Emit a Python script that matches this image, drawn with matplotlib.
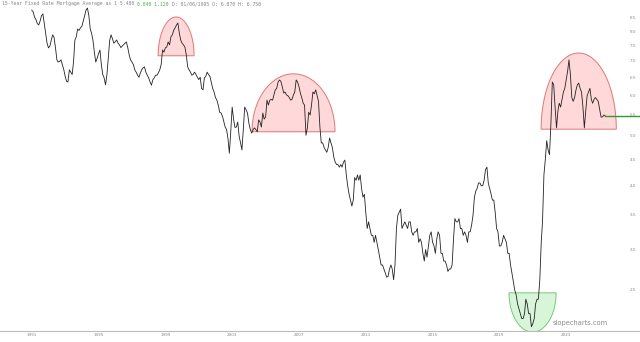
import matplotlib
matplotlib.use("Agg")
import matplotlib.pyplot as plt
import matplotlib.dates as mdates
from matplotlib.transforms import blended_transform_factory
from matplotlib.patches import Polygon
import numpy as np
import pandas as pd

# 15-year fixed rate mortgage average, monthly (%)
first_month = "1991-08-01"
rates_1990s = [
    8.82, 8.75, 8.55, 8.45, 8.30,
    8.25, 8.40, 8.60, 8.67, 8.30, 7.95, 7.60, 7.44, 7.50, 7.70, 7.89, 7.80,
    7.45, 7.05, 6.98, 7.00, 7.05, 6.90, 6.75, 6.55, 6.40, 6.38, 6.74, 6.67,
    6.60, 7.00, 7.70, 7.82, 8.10, 8.05, 8.14, 8.20, 8.40, 8.60, 8.83, 8.90,
    8.60, 8.10, 7.95, 7.70, 7.30, 6.98, 7.10, 7.25, 7.37, 6.90, 6.60, 6.50,
    6.30, 6.60, 7.10, 7.70, 7.89, 7.75, 7.60, 7.65, 7.71, 7.60, 7.54, 7.45,
    7.50, 7.55, 7.60, 7.64, 7.45, 7.21, 7.05, 6.98, 6.90, 6.74, 6.67, 6.58,
    6.52, 6.65, 6.74, 6.80, 6.83, 6.67, 6.58, 6.50, 6.38, 6.29, 6.45, 6.50,
    6.58, 6.58, 6.65, 6.74, 6.90, 7.37, 7.30, 7.44, 7.47, 7.64, 7.54, 7.82,
]
rates_2000s = [
    7.89, 8.06, 8.14, 8.25, 8.32, 7.96, 7.71, 7.60, 7.54, 7.47, 7.21, 6.83,
    6.74, 6.67, 6.58, 6.60, 6.67, 6.60, 6.52, 6.45, 6.52, 6.20, 6.16, 6.50,
    6.55, 6.67, 6.60, 6.55, 6.38, 6.20, 6.10, 5.95, 5.88, 5.75, 5.57, 5.55,
    5.47, 5.33, 5.21, 5.15, 4.95, 4.63, 5.10, 5.70, 5.40, 5.20, 5.21, 5.33,
    5.00, 4.85, 4.70, 5.15, 5.70, 5.63, 5.55, 5.30, 5.15, 5.07, 5.15, 5.19,
    5.15, 5.10, 5.38, 5.33, 5.21, 5.55, 5.40, 5.45, 5.88, 5.75, 5.88, 5.90,
    5.88, 6.02, 6.16, 6.20, 6.38, 6.44, 6.40, 6.25, 6.07, 6.10, 6.02, 6.00,
    5.95, 5.88, 5.90, 6.02, 6.10, 6.44, 6.38, 6.25, 6.07, 5.95, 5.80, 5.75,
    5.02, 5.19, 5.57, 5.50, 5.75, 6.10, 6.05, 6.16, 6.00, 5.85, 5.21, 4.85,
    4.85, 4.75, 4.70, 4.65, 4.75, 4.96, 4.85, 4.75, 4.55, 4.45, 4.40, 4.40,
]
rates_2010s = [
    4.35, 4.40, 4.35, 4.45, 4.49, 4.20, 4.00, 3.85, 3.75, 3.65, 3.75, 4.15,
    4.10, 4.20, 4.10, 4.20, 3.95, 3.80, 3.85, 3.55, 3.30, 3.40, 3.30, 3.20,
    3.20, 3.10, 3.20, 3.10, 3.00, 2.90, 2.80, 2.80, 2.75, 2.70, 2.65, 2.66,
    2.75, 2.80, 2.75, 2.62, 2.80, 3.30, 3.50, 3.55, 3.60, 3.30, 3.35, 3.40,
    3.35, 3.30, 3.40, 3.40, 3.25, 3.20, 3.25, 3.25, 3.30, 3.10, 3.15, 3.10,
    2.95, 2.85, 3.00, 2.90, 3.05, 3.20, 3.25, 3.10, 3.05, 2.95, 3.15, 3.25,
    3.20, 2.95, 2.95, 2.85, 2.85, 2.80, 2.72, 2.75, 2.75, 2.80, 3.15, 3.45,
    3.40, 3.40, 3.45, 3.30, 3.30, 3.20, 3.25, 3.20, 3.10, 3.25, 3.25, 3.35,
    3.50, 3.80, 3.90, 3.95, 4.05, 4.05, 4.00, 4.00, 4.10, 4.30, 4.35, 4.05,
    3.95, 3.85, 3.75, 3.75, 3.55, 3.30, 3.25, 3.05, 3.05, 3.10, 3.20, 3.15,
]
rates_2020s = [
    3.10, 2.95, 2.95, 2.80, 2.70, 2.60, 2.50, 2.45, 2.35, 2.30, 2.25, 2.20,
    2.20, 2.25, 2.40, 2.35, 2.25, 2.25, 2.12, 2.15, 2.20, 2.35, 2.40, 2.40,
    2.62, 3.10, 3.40, 4.20, 4.50, 4.90, 4.70, 4.60, 5.30, 6.38, 6.30, 5.70,
    5.19, 5.60, 5.80, 5.70, 5.90, 6.10, 6.20, 6.45, 6.70, 7.05, 6.60, 5.95,
    5.85, 5.95, 6.15, 6.30, 6.35, 6.20, 6.10, 5.70, 5.19, 5.60, 6.00, 6.10,
    6.20, 5.90, 5.80, 5.90, 5.95, 5.90, 5.85, 5.65, 5.45, 5.45, 5.50, 5.48,
]

x_tick_dates = ["1991-08-01", "1995-08-01", "1999-08-01", "2003-08-01", "2007-08-01",
                "2011-08-01", "2015-08-01", "2019-08-01", "2023-08-01"]
x_tick_labels = ["1991", "1995", "1999", "2003", "2007", "2011", "2015", "2019", "2023"]
y_ticks = [2.5, 3.0, 3.5, 4.0, 4.5, 5.0, 5.5, 6.0, 6.5, 7.0, 7.5, 8.0, 8.5]

# highlighted tops (red) and bottom (green): start, end, base level, apex level
top_starts = ["1999-02-24", "2004-10-08", "2022-01-30"]
top_ends = ["2001-04-20", "2009-09-27", "2026-08-01"]
top_bases = [7.18, 5.10, 5.16]
top_apexes = [8.55, 6.62, 7.27]
bottom_start, bottom_end = "2020-02-28", "2022-12-24"
bottom_base, bottom_apex = 2.47, 2.07

title_head = "15-Year Fixed Rate Mortgage Average as 1 5.480"
title_green = " 0.040 1.120"
title_tail = " D: 01/06/1995 O: 6.870 H: 6.750"

rates = rates_1990s + rates_2000s + rates_2010s + rates_2020s
dates = pd.date_range(first_month, periods=len(rates), freq="MS")

fig = plt.figure(figsize=(6.4, 3.42), dpi=100)
ax = fig.add_axes([0, 11 / 342, 1, 331 / 342])
ax.set_yscale("log")
ax.set_xlim(pd.Timestamp("1989-09-06"), pd.Timestamp("2028-01-01"))
ax.set_ylim(2.08, 9.23)

ax.plot(dates, rates, color="#222222", lw=0.6, zorder=3)
ax.plot([dates[-1], pd.Timestamp("2028-01-01")], [rates[-1], rates[-1]],
        color="#2e9b2e", lw=1.0, zorder=3, clip_on=False)


def arch(start, end, base, apex, face, edge):
    x0 = mdates.date2num(pd.Timestamp(start))
    x1 = mdates.date2num(pd.Timestamp(end))
    p0, p1, pa = ax.transData.transform([(x0, base), (x1, base), (x0, apex)])
    cx, rx, ry = (p0[0] + p1[0]) / 2, (p1[0] - p0[0]) / 2, pa[1] - p0[1]
    t = np.linspace(0, np.pi, 150)
    pts = np.column_stack([cx - rx * np.cos(t), p0[1] + ry * np.sin(t)])
    poly = Polygon(ax.transData.inverted().transform(pts), closed=True,
                   facecolor=face, edgecolor=edge, lw=0.7, zorder=2)
    ax.add_patch(poly)


for s, e, b, a in zip(top_starts, top_ends, top_bases, top_apexes):
    arch(s, e, b, a, (1.0, 0.0, 0.0, 0.15), (0.85, 0.35, 0.35, 0.8))
arch(bottom_start, bottom_end, bottom_base, bottom_apex,
     (0.0, 0.75, 0.0, 0.15), (0.35, 0.75, 0.35, 0.8))

for side in ["top", "left", "right"]:
    ax.spines[side].set_visible(False)
ax.spines["bottom"].set_color("#bbbbbb")
ax.spines["bottom"].set_linewidth(0.8)

ax.set_xticks([pd.Timestamp(d) for d in x_tick_dates])
ax.set_xticklabels(x_tick_labels)
ax.tick_params(axis="x", length=0, pad=1.5, labelsize=3, labelcolor="#888888")

# price scale labels sit inside the right edge
ax.set_yticks([])
ax.minorticks_off()
ytrans = blended_transform_factory(ax.transAxes, ax.transData)
for v in y_ticks:
    ax.text(633 / 640, v, f"{v:.1f}", transform=ytrans, ha="center", va="center",
            fontsize=3, color="#888888")

ax.text(608 / 640, 0.015, "slopecharts.com", transform=ax.transAxes, ha="right",
        va="bottom", fontsize=4.8, color="#8a8a8a", zorder=4)

# header line, with the change values in green
renderer = fig.canvas.get_renderer()
x = 2 / 640
for part, col in [(title_head, "#888888"), (title_green, "#4caf50"), (title_tail, "#888888")]:
    t = fig.text(x, 1 - 4 / 342, part, fontsize=3.5, family="DejaVu Sans Mono",
                 color=col, va="center", ha="left")
    bb = t.get_window_extent(renderer)
    x = bb.x1 / fig.bbox.width

fig.savefig("out.png", dpi=100)
